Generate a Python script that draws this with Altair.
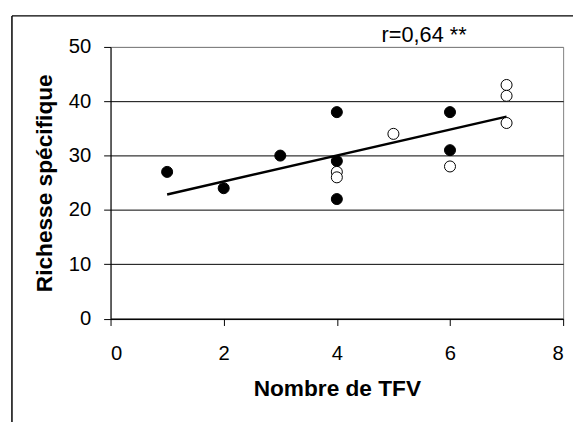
import altair as alt
import pandas as pd

# Data
tfv_fauchee = [1, 2, 3, 4, 4, 4, 6, 6]
rich_fauchee = [27, 24, 30, 38, 29, 22, 38, 31]
tfv_paturee = [4, 4, 5, 6, 7, 7, 7]
rich_paturee = [27, 26, 34, 28, 43, 41, 36]
x_ticks = [0, 2, 4, 6, 8]
y_ticks = [0, 10, 20, 30, 40, 50]
r_label = ["r=0,64 **"]

df = pd.DataFrame({
    "tfv": tfv_fauchee + tfv_paturee,
    "rich": rich_fauchee + rich_paturee,
    "sole": ["fauchée"] * len(tfv_fauchee) + ["pâturée"] * len(tfv_paturee),
})

xenc = alt.X("tfv:Q", scale=alt.Scale(domain=[0, 8], nice=False),
             axis=alt.Axis(values=x_ticks, title="Nombre de TFV", grid=False,
                           labelFontSize=20.5, titleFontSize=23, titleFontWeight="bold",
                           tickSize=7, tickColor="black", domainColor="black",
                           labelColor="black", titleColor="black",
                           labelPadding=18, titlePadding=15, format="d"))
yenc = alt.Y("rich:Q", scale=alt.Scale(domain=[0, 50], nice=False),
             axis=alt.Axis(values=y_ticks, title="Richesse spécifique",
                           grid=True,
                           gridColor={"condition": {"test": "datum.value === 50", "value": "#808080"}, "value": "black"},
                           labelFontSize=20.5, titleFontSize=23, titleFontWeight="bold",
                           tickSize=7, tickColor="black", domainColor="black",
                           labelColor="black", titleColor="black",
                           labelPadding=13, titlePadding=12, format="d"))

base = alt.Chart(df)

points = base.mark_point(filled=True, size=125, stroke="black", strokeWidth=1, opacity=1).encode(
    x=xenc, y=yenc,
    fill=alt.Fill("sole:N", scale=alt.Scale(domain=["fauchée", "pâturée"], range=["black", "white"]), legend=None),
)

reg = base.transform_regression("tfv", "rich", extent=[1, 7]).mark_line(
    color="black", strokeWidth=2.5).encode(x="tfv:Q", y="rich:Q")

rtext = alt.Chart(pd.DataFrame({"t": r_label})).mark_text(
    fontSize=22, color="black", align="center", baseline="alphabetic").encode(
    text="t:N", x=alt.value(318), y=alt.value(-5.5))

frame_top = alt.Chart(pd.DataFrame({"a": [0]})).mark_rule(color="black", strokeWidth=1.5).encode(
    x=alt.value(-100), x2=alt.value(480), y=alt.value(-31.5))
frame_left = alt.Chart(pd.DataFrame({"a": [0]})).mark_rule(color="black", strokeWidth=1.5).encode(
    x=alt.value(-100), y=alt.value(-31.5), y2=alt.value(420))

chart = alt.layer(frame_top, frame_left, reg, points, rtext).properties(
    width=459, height=275.5,
    padding={"left": 104, "top": 36.5, "right": 10, "bottom": 110},
    autosize=alt.AutoSizeParams(type="none"),
).configure(font="Liberation Sans").configure_view(stroke="#808080", strokeWidth=1)

chart.save("out.html", embed_options={"renderer": "svg", "actions": False})
